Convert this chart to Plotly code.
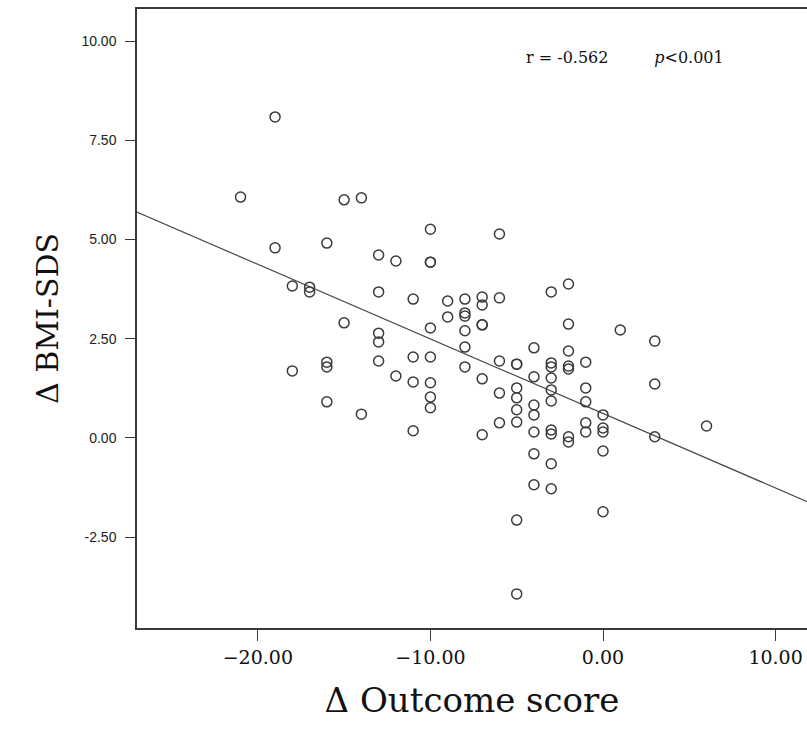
import numpy as np
import plotly.graph_objects as go

# Δ Outcome score (x) and Δ BMI-SDS (y)
outcome = [
    -21, -19, -19, -18, -18, -17, -17, -16, -16, -16, -16,
    -15, -15, -14, -14, -13, -13, -13, -13, -13, -12, -12,
    -11, -11, -11, -11, -10, -10, -10, -10, -10, -10, -10, -10,
    -9, -9, -8, -8, -8, -8, -8, -8, -7, -7, -7, -7, -7, -7,
    -6, -6, -6, -6, -6, -5, -5, -5, -5, -5, -5, -5, -5,
    -4, -4, -4, -4, -4, -4, -4,
    -3, -3, -3, -3, -3, -3, -3, -3, -3, -3,
    -2, -2, -2, -2, -2, -2, -2,
    -1, -1, -1, -1, -1, 0, 0, 0, 0, 0, 1, 3, 3, 3, 6,
]
bmi_sds = [
    6.07, 8.09, 4.79, 3.83, 1.69, 3.80, 3.68, 4.91, 1.91, 1.79, 0.91,
    6.00, 2.90, 6.05, 0.60, 4.61, 3.68, 2.64, 2.42, 1.94, 4.46, 1.56,
    3.50, 2.04, 1.41, 0.18, 5.26, 4.43, 4.43, 2.77, 2.04, 1.39, 1.03, 0.76,
    3.45, 3.05, 3.50, 3.15, 3.07, 2.70, 2.29, 1.79, 3.55, 3.35, 2.85, 2.85, 1.49, 0.08,
    5.14, 3.53, 1.94, 1.13, 0.38, 1.86, 1.86, 1.26, 1.01, 0.71, 0.40, -2.07, -3.93,
    2.27, 1.54, 0.83, 0.58, 0.15, -0.40, -1.18,
    3.68, 1.89, 1.79, 1.51, 1.21, 0.93, 0.20, 0.10, -0.65, -1.28,
    3.88, 2.87, 2.19, 1.81, 1.74, 0.03, -0.10,
    1.91, 1.26, 0.91, 0.38, 0.15, 0.58, 0.25, 0.15, -0.33, -1.86, 2.72, 2.44, 1.36, 0.03, 0.30,
]

x_tickvals = [-20, -10, 0, 10]
x_ticktext = ["\u221220.00", "\u221210.00", "0.00", "10.00"]
y_tickvals = [-2.5, 0, 2.5, 5, 7.5, 10]
y_ticktext = ["-2.50", "0.00", "2.50", "5.00", "7.50", "10.00"]

slope, intercept = np.polyfit(outcome, bmi_sds, 1)
fit_x = np.array([-30.0, 15.0])
fit_y = slope * fit_x + intercept

ink = "#3a3a3a"

fig = go.Figure()
fig.add_trace(go.Scatter(
    x=fit_x, y=fit_y, mode="lines",
    line=dict(color="#444444", width=1.2), hoverinfo="skip", showlegend=False,
))
fig.add_trace(go.Scatter(
    x=outcome, y=bmi_sds, mode="markers",
    marker=dict(symbol="circle-open", size=10, color=ink, line=dict(width=1.5, color=ink)),
    showlegend=False,
))

fig.add_annotation(
    x=1.30, y=9.60, xref="x", yref="y",
    text="r = -0.562" + "&nbsp;" * 9 + "<i>p</i>&lt;0.001",
    showarrow=False,
    font=dict(family="DejaVu Serif", size=16, color="#111111"),
)

fig.update_layout(
    width=807, height=742,
    margin=dict(l=137, r=0, t=9, b=114),
    paper_bgcolor="white", plot_bgcolor="white",
    xaxis=dict(
        range=[-27.0, 11.82],
        tickvals=x_tickvals, ticktext=x_ticktext,
        showgrid=False, zeroline=False,
        showline=True, linecolor=ink, linewidth=1.5, mirror=True,
        ticks="outside", ticklen=11, tickwidth=1.3, tickcolor=ink,
        tickfont=dict(family="DejaVu Serif", size=19, color="#111111"),
        title=dict(text="\u0394 Outcome score",
                   font=dict(family="DejaVu Serif", size=34, color="#111111"),
                   standoff=22),
    ),
    yaxis=dict(
        range=[-4.79, 10.81],
        tickvals=y_tickvals, ticktext=y_ticktext,
        showgrid=False, zeroline=False,
        showline=True, linecolor=ink, linewidth=1.5, mirror=False,
        ticks="outside", ticklen=10, tickwidth=1.3, tickcolor=ink,
        ticklabelstandoff=6,
        tickfont=dict(family="Liberation Sans", size=14, color="#222222"),
        title=dict(text="\u0394 BMI-SDS",
                   font=dict(family="DejaVu Serif", size=30, color="#111111"),
                   standoff=14),
    ),
)

fig.write_html(
    "out.html",
    config={"displayModeBar": False},
    post_script="document.body.style.margin='0';document.body.style.overflow='hidden';",
)
